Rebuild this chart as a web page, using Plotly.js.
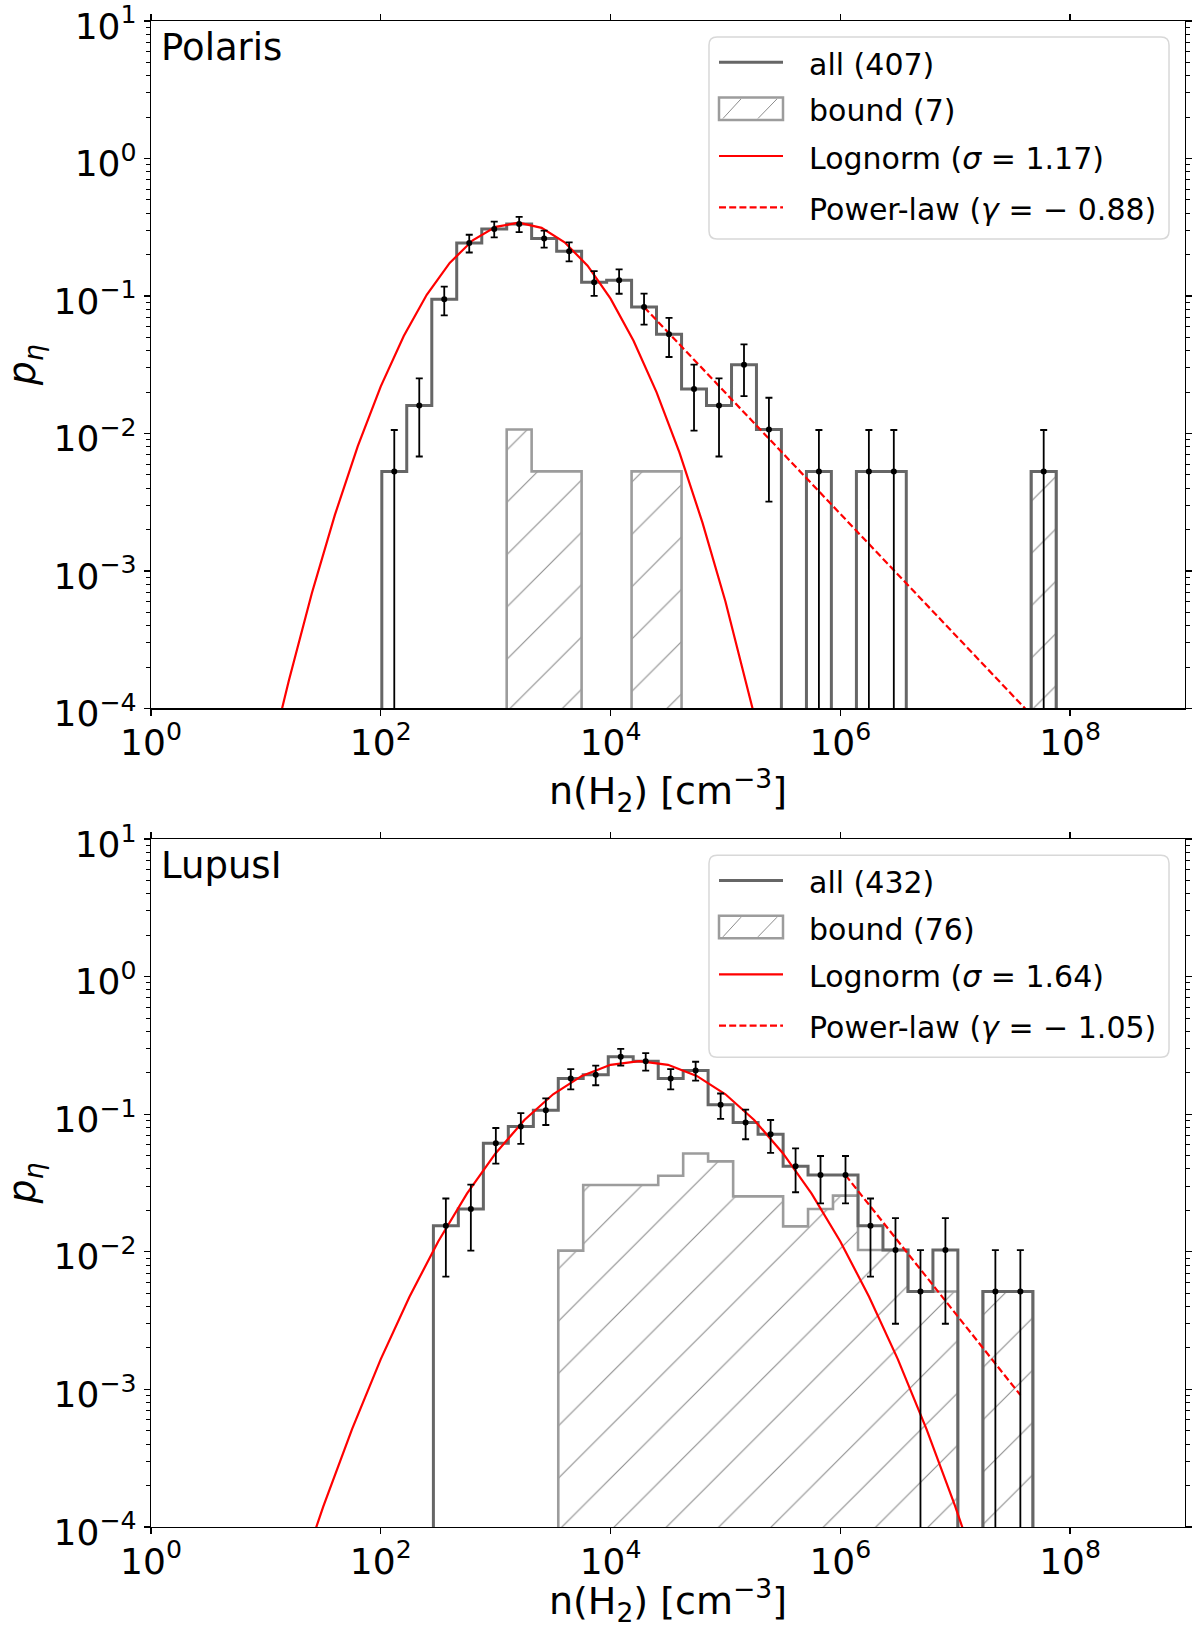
<!DOCTYPE html>
<html>
<head>
<meta charset="utf-8">
<script src="https://cdn.plot.ly/plotly-3.0.1.min.js"></script>
<style>html,body{margin:0;padding:0;background:#fff;}</style>
</head>
<body>
<div id="chart" style="width:1200px;height:1628px;"></div>
<script>
// ---------- Data ----------
// log10 n(H2) bin edges
const polarisLogEdges = [2.009, 2.226, 2.444, 2.661, 2.879, 3.096, 3.313, 3.531, 3.748, 3.966,
  4.183, 4.400, 4.618, 4.835, 5.053, 5.270, 5.487, 5.705, 5.922, 6.140,
  6.357, 6.574, 6.792, 7.009, 7.227, 7.444, 7.661, 7.879];
const polarisAll = [0.0053, 0.016, 0.0946, 0.243, 0.307, 0.334, 0.262, 0.212, 0.126, 0.130,
  0.083, 0.0527, 0.0211, 0.016, 0.0316, 0.0107, 0, 0.0053, 0, 0.0053,
  0.0053, 0, 0, 0, 0, 0, 0.0053];
const polarisAllErr = [0.0053, 0.0092, 0.0224, 0.0359, 0.0403, 0.0421, 0.0373, 0.0335, 0.0258, 0.0262,
  0.0210, 0.0167, 0.0106, 0.0092, 0.0129, 0.0075, 0, 0.0053, 0, 0.0053,
  0.0053, 0, 0, 0, 0, 0, 0.0053];
const polarisBound = [0, 0, 0, 0, 0, 0.0107, 0.0053, 0.0053, 0, 0,
  0.0053, 0.0053, 0, 0, 0, 0, 0, 0, 0, 0,
  0, 0, 0, 0, 0, 0, 0.0053];
const polarisLognormLogN = [1.12, 1.2, 1.4, 1.6, 1.8, 2.0, 2.2, 2.4, 2.6, 2.8, 3.0, 3.2,
  3.4, 3.6, 3.8, 4.0, 4.2, 4.4, 4.6, 4.8, 5.0, 5.2, 5.3];
const polarisLognormP = [8.49e-5, 1.60e-4, 6.89e-4, 2.55e-3, 8.09e-3, 0.0220, 0.0512, 0.102, 0.174, 0.254, 0.318, 0.341,
  0.313, 0.246, 0.166, 0.0957, 0.0473, 0.0200, 7.26e-3, 2.25e-3, 6.0e-4, 1.36e-4, 6.15e-5];
const polarisPowerLogN = [4.292, 7.770];
const polarisPowerP = [0.083, 7.2e-5];

const lupusLogEdges = [2.458, 2.675, 2.893, 3.110, 3.328, 3.545, 3.762, 3.980, 4.197, 4.415,
  4.632, 4.849, 5.067, 5.284, 5.502, 5.719, 5.936, 6.154, 6.371, 6.589,
  6.806, 7.023, 7.241, 7.458, 7.676];
const lupusAll = [0.0155, 0.0205, 0.0616, 0.0814, 0.107, 0.182, 0.194, 0.262, 0.243, 0.182,
  0.208, 0.117, 0.087, 0.0716, 0.0418, 0.0361, 0.0361, 0.0155, 0.0103, 0.00515,
  0.0103, 0, 0.00515, 0.00515];
const lupusAllErr = [0.0089, 0.0103, 0.0178, 0.0205, 0.0235, 0.0306, 0.0316, 0.0367, 0.0354, 0.0306,
  0.0327, 0.0245, 0.0212, 0.0192, 0.0147, 0.0136, 0.0136, 0.0089, 0.0073, 0.00515,
  0.0073, 0, 0.00515, 0.00515];
const lupusBound = [0, 0, 0, 0, 0, 0.0102, 0.0306, 0.0306, 0.0306, 0.0357,
  0.0519, 0.0454, 0.0253, 0.0253, 0.0153, 0.0205, 0.0256, 0.0103, 0.0103, 0.00515,
  0.00515, 0, 0.00515, 0.00515];
const lupusLognormLogN = [1.3, 1.5, 1.75, 2.0, 2.25, 2.5, 2.75, 3.0, 3.25, 3.5, 3.75, 4.0, 4.25,
  4.5, 4.75, 5.0, 5.25, 5.5, 5.75, 6.0, 6.25, 6.5, 6.75, 7.0, 7.2];
const lupusLognormP = [4.58e-5, 1.41e-4, 5.14e-4, 1.66e-3, 4.72e-3, 0.0119, 0.0265, 0.0521, 0.0908, 0.1396, 0.190, 0.2287, 0.2433,
  0.2287, 0.190, 0.1396, 0.0908, 0.0521, 0.0265, 0.0119, 4.72e-3, 1.66e-3, 5.14e-4, 1.41e-4, 4.58e-5];
const lupusPowerLogN = [6.045, 7.567];
const lupusPowerP = [0.0361, 9.1e-4];

const panelNames = ['Polaris', 'LupusI'];
const allLabels = ['all (407)', 'all (432)'];
const boundLabels = ['bound (7)', 'bound (76)'];
const lognormLabels = ['Lognorm (<i>σ</i> = 1.17)', 'Lognorm (<i>σ</i> = 1.64)'];
const powerLabels = ['Power-law (<i>γ</i> = − 0.88)', 'Power-law (<i>γ</i> = − 1.05)'];

const xTickVals = [1, 1e2, 1e4, 1e6, 1e8];
const xTickText = ['10<sup>0</sup>', '10<sup>2</sup>', '10<sup>4</sup>', '10<sup>6</sup>', '10<sup>8</sup>'];
const yTickVals = [1e1, 1e0, 1e-1, 1e-2, 1e-3, 1e-4];
const yTickText = ['10<sup>1</sup>', '10<sup>0</sup>', '10<sup>−1</sup>', '10<sup>−2</sup>', '10<sup>−3</sup>', '10<sup>−4</sup>'];

// ---------- geometry / styling ----------
const W = 1200, H = 1628;
const ML = 151, MR = 15, MT = 21, MB = 101;
const PW = W - ML - MR, PH = H - MT - MB;
const FLOOR = 1e-6;
const FONT = 'DejaVu Sans';
const ALLCOLOR = '#666666';
const BOUNDCOLOR = '#9c9c9c';
const HATCHCOLOR = '#8c8c8c';
const DASH = '7px,3.2px';

function toN(arr) { return arr.map(v => Math.pow(10, v)); }
function stepXY(logEdges, vals) {
  const xs = [Math.pow(10, logEdges[0])], ys = [FLOOR];
  for (let i = 0; i < vals.length; i++) {
    const v = vals[i] > 0 ? vals[i] : FLOOR;
    xs.push(Math.pow(10, logEdges[i]), Math.pow(10, logEdges[i + 1]));
    ys.push(v, v);
  }
  xs.push(Math.pow(10, logEdges[logEdges.length - 1])); ys.push(FLOOR);
  return {xs, ys};
}
function centers(logEdges, vals, errs) {
  const x = [], y = [], e = [];
  for (let i = 0; i < vals.length; i++) {
    if (vals[i] > 0) {
      x.push(Math.pow(10, (logEdges[i] + logEdges[i + 1]) / 2));
      y.push(vals[i]); e.push(errs[i]);
    }
  }
  return {x, y, e};
}

function panelTraces(idx, edges, all, err, bound, lnN, lnP, plN, plP) {
  const xa = idx === 0 ? 'x' : 'x2';
  const ya = idx === 0 ? 'y' : 'y2';
  const b = stepXY(edges, bound);
  const a = stepXY(edges, all);
  const c = centers(edges, all, err);
  return [
    {type: 'scatter', mode: 'lines', x: b.xs, y: b.ys, xaxis: xa, yaxis: ya,
      name: boundLabels[idx], showlegend: false,
      fill: 'toself', fillcolor: 'rgba(0,0,0,0)',
      fillpattern: {shape: '/', fgcolor: HATCHCOLOR, bgcolor: 'rgba(0,0,0,0)', size: 37, solidity: 0.03},
      line: {color: BOUNDCOLOR, width: 2.6}, hoverinfo: 'skip'},
    {type: 'scatter', mode: 'lines', x: a.xs, y: a.ys, xaxis: xa, yaxis: ya,
      name: allLabels[idx], showlegend: false,
      line: {color: ALLCOLOR, width: 3}, hoverinfo: 'skip'},
    {type: 'scatter', mode: 'lines', x: toN(lnN), y: lnP, xaxis: xa, yaxis: ya,
      name: lognormLabels[idx], showlegend: false,
      line: {color: '#ff0000', width: 2.2}, hoverinfo: 'skip'},
    {type: 'scatter', mode: 'lines', x: toN(plN), y: plP, xaxis: xa, yaxis: ya,
      name: powerLabels[idx], showlegend: false,
      line: {color: '#ff0000', width: 2.2, dash: DASH}, hoverinfo: 'skip'},
    {type: 'scatter', mode: 'markers', x: c.x, y: c.y, xaxis: xa, yaxis: ya,
      showlegend: false, marker: {color: 'black', size: 6},
      error_y: {type: 'data', array: c.e, visible: true, color: 'black', thickness: 1.8, width: 3.5},
      hoverinfo: 'skip'}
  ];
}

const data = [].concat(
  panelTraces(0, polarisLogEdges, polarisAll, polarisAllErr, polarisBound,
    polarisLognormLogN, polarisLognormP, polarisPowerLogN, polarisPowerP),
  panelTraces(1, lupusLogEdges, lupusAll, lupusAllErr, lupusBound,
    lupusLognormLogN, lupusLognormP, lupusPowerLogN, lupusPowerP)
);

// minor y ticks (2..9 per decade)
const minorY = [];
for (let e = -4; e < 1; e++) for (let d = 2; d <= 9; d++) minorY.push(d * Math.pow(10, e));

const xTitle = 'n(H<sub>2</sub>) [cm<sup>−3</sup>]';
const yTitle = '<i>p</i><sub><i>η</i></sub>';

function xAxis(anchor) {
  return {anchor: anchor, domain: [0, 1], type: 'log', range: [0, 9],
    tickmode: 'array', tickvals: xTickVals, ticktext: xTickText,
    ticks: 'outside', ticklen: 6, tickwidth: 1.3, tickcolor: 'black',
    showline: true, linecolor: 'black', linewidth: 1.3, mirror: 'allticks',
    showgrid: false, zeroline: false, ticklabeloverflow: 'allow', ticklabelstandoff: -4,
    tickfont: {size: 36, family: FONT, color: 'black'},
    title: {text: xTitle, font: {size: 38, family: FONT, color: 'black'}, standoff: 2}};
}
function yAxis(anchor, domain) {
  return {anchor: anchor, domain: domain, type: 'log', range: [-4, 1],
    tickmode: 'array', tickvals: yTickVals, ticktext: yTickText,
    ticks: 'outside', ticklen: 6, tickwidth: 1.3, tickcolor: 'black',
    minor: {tickmode: 'array', tickvals: minorY, ticks: 'outside', ticklen: 3.5, tickwidth: 1, tickcolor: 'black', showgrid: false},
    showline: true, linecolor: 'black', linewidth: 1.3, mirror: 'allticks',
    showgrid: false, zeroline: false, ticklabeloverflow: 'allow', ticklabelshift: 5,
    tickfont: {size: 36, family: FONT, color: 'black'},
    title: {text: yTitle, font: {size: 38, family: FONT, color: 'black'}, standoff: 18}};
}

// ---------- custom legend (matplotlib-like) ----------
const px2x = px => (px - ML) / PW;
const py2y = py => (H - MB - py) / PH;
const PANEL_SHIFT = 818.3;
const shapes = [], annotations = [];
function addLegend(idx) {
  const dy = idx === 0 ? 0 : PANEL_SHIFT;
  const L = 709, R = 1169, T = 37 + dy, B = 239 + dy, r = 8;
  const p = (x, y) => px2x(x).toFixed(5) + ',' + py2y(y).toFixed(5);
  shapes.push({type: 'path', xref: 'paper', yref: 'paper', layer: 'above',
    path: 'M' + p(L + r, T) + 'L' + p(R - r, T) + 'Q' + p(R, T) + ' ' + p(R, T + r) +
      'L' + p(R, B - r) + 'Q' + p(R, B) + ' ' + p(R - r, B) +
      'L' + p(L + r, B) + 'Q' + p(L, B) + ' ' + p(L, B - r) +
      'L' + p(L, T + r) + 'Q' + p(L, T) + ' ' + p(L + r, T) + 'Z',
    fillcolor: 'rgba(255,255,255,0.8)', line: {color: '#d8d8d8', width: 1.5}});
  const rows = [62.3 + dy, 108.7 + dy, 156 + dy, 207.3 + dy];
  const sx0 = 719, sx1 = 783, tx = 807;
  // all
  shapes.push({type: 'line', xref: 'paper', yref: 'paper', layer: 'above',
    x0: px2x(sx0), x1: px2x(sx1), y0: py2y(rows[0]), y1: py2y(rows[0]),
    line: {color: ALLCOLOR, width: 3}});
  // bound (hatched box)
  const bt = rows[1] - 11.3, bb = rows[1] + 11.3;
  shapes.push({type: 'rect', xref: 'paper', yref: 'paper', layer: 'above',
    x0: px2x(sx0), x1: px2x(sx1), y0: py2y(bb), y1: py2y(bt),
    fillcolor: 'rgba(0,0,0,0)', line: {color: BOUNDCOLOR, width: 2.5}});
  shapes.push({type: 'path', xref: 'paper', yref: 'paper', layer: 'above',
    path: 'M' + p(723, bb - 1.5) + 'L' + p(741, bt + 1.5) + 'M' + p(758, bb - 1.5) + 'L' + p(777, bt + 1.5),
    line: {color: HATCHCOLOR, width: 1}});
  // lognorm
  shapes.push({type: 'line', xref: 'paper', yref: 'paper', layer: 'above',
    x0: px2x(sx0), x1: px2x(sx1), y0: py2y(rows[2]), y1: py2y(rows[2]),
    line: {color: '#ff0000', width: 2.2}});
  // power law
  shapes.push({type: 'line', xref: 'paper', yref: 'paper', layer: 'above',
    x0: px2x(sx0), x1: px2x(sx1), y0: py2y(rows[3]), y1: py2y(rows[3]),
    line: {color: '#ff0000', width: 2.2, dash: DASH}});
  const labels = [allLabels[idx], boundLabels[idx], lognormLabels[idx], powerLabels[idx]];
  labels.forEach((t, i) => annotations.push({text: t, xref: 'paper', yref: 'paper',
    x: px2x(tx), y: py2y(rows[i] + 2), xanchor: 'left', yanchor: 'middle', showarrow: false,
    font: {size: 30, family: FONT, color: 'black'}}));
}
addLegend(0);
addLegend(1);

annotations.push(
  {text: panelNames[0], xref: 'x domain', yref: 'y domain', x: 0.008, y: 0.9956, xanchor: 'left', yanchor: 'top',
    showarrow: false, font: {size: 37, family: FONT, color: 'black'}},
  {text: panelNames[1], xref: 'x2 domain', yref: 'y2 domain', x: 0.008, y: 0.9956, xanchor: 'left', yanchor: 'top',
    showarrow: false, font: {size: 37, family: FONT, color: 'black'}}
);

const layout = {
  width: W, height: H,
  margin: {l: ML, r: MR, t: MT, b: MB},
  paper_bgcolor: 'white', plot_bgcolor: 'white',
  font: {family: FONT, color: 'black'},
  showlegend: false,
  xaxis: xAxis('y'),
  yaxis: yAxis('x', [0.5435, 1]),
  xaxis2: xAxis('y2'),
  yaxis2: yAxis('x2', [0, 0.4568]),
  shapes: shapes,
  annotations: annotations
};

Plotly.newPlot('chart', data, layout, {displayModeBar: false, staticPlot: true});
</script>
</body>
</html>
